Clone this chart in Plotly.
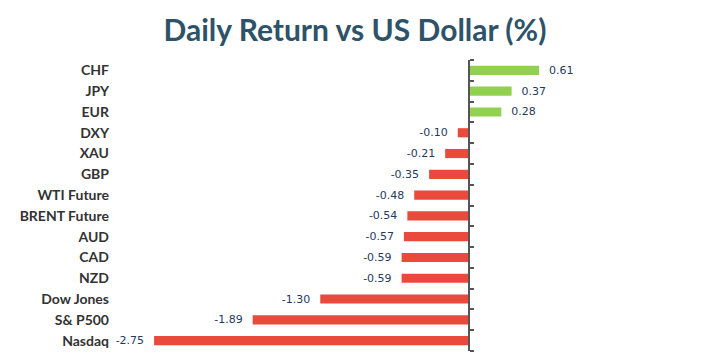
import plotly.graph_objects as go

categories = ["CHF", "JPY", "EUR", "DXY", "XAU", "GBP", "WTI Future", "BRENT Future",
              "AUD", "CAD", "NZD", "Dow Jones", "S& P500", "Nasdaq"]
values = [0.61, 0.37, 0.28, -0.10, -0.21, -0.35, -0.48, -0.54,
          -0.57, -0.59, -0.59, -1.30, -1.89, -2.75]
NB = "\u00a0\u00a0"
value_labels = [(NB + f"{v:.2f}") if v >= 0 else (f"{v:.2f}" + NB) for v in values]

GREEN = "#92d050"
RED = "#ea4a3c"
colors = [GREEN if v >= 0 else RED for v in values]

x_range = [-3.1, 1.15]
n = len(categories)

fig = go.Figure()
fig.add_trace(go.Bar(
    y=list(range(n)), x=values, orientation="h",
    marker=dict(color=colors, line=dict(width=0)),
    width=0.44,
    text=value_labels, textposition="outside", constraintext="none",
    textfont=dict(family="DejaVu Sans", size=11, color="#1f3a60"),
    cliponaxis=False, hoverinfo="skip",
))

zero_pos = (0 - x_range[0]) / (x_range[1] - x_range[0])

fig.update_layout(
    width=701, height=355,
    margin=dict(l=106, r=108, t=52, b=12, autoexpand=False),
    paper_bgcolor="white", plot_bgcolor="white",
    showlegend=False,
    title=dict(text="<b>Daily Return vs US Dollar (%)</b>", x=0.495, xanchor="center",
               y=1 - 22 / 355, yref="container", yanchor="middle",
               font=dict(family="Lato", size=30, color="#2e5368")),
    xaxis=dict(range=x_range, showgrid=False, zeroline=False, showticklabels=False,
               showline=False, ticks="", automargin=False),
    yaxis=dict(range=[n - 0.5, -0.5], tickmode="array", tickvals=list(range(n)),
               ticktext=categories, showgrid=False, zeroline=False, showline=False,
               ticks="", ticklabelstandoff=4, automargin=False,
               tickfont=dict(family="Lato", size=14, color="#333333", weight="bold")),
    yaxis2=dict(overlaying="y", anchor="free", position=zero_pos, side="right",
                range=[n - 0.5, -0.5], tickmode="array",
                tickvals=[i - 0.5 for i in range(n + 1)], automargin=False,
                showticklabels=False, showgrid=False, zeroline=False,
                showline=True, linecolor="#555555", linewidth=2,
                ticks="outside", ticklen=4, tickwidth=1.5, tickcolor="#555555"),
)
fig.add_trace(go.Scatter(x=[0], y=[0], yaxis="y2", mode="markers",
                         marker=dict(opacity=0), hoverinfo="skip"))

fig.write_html("out.html")
